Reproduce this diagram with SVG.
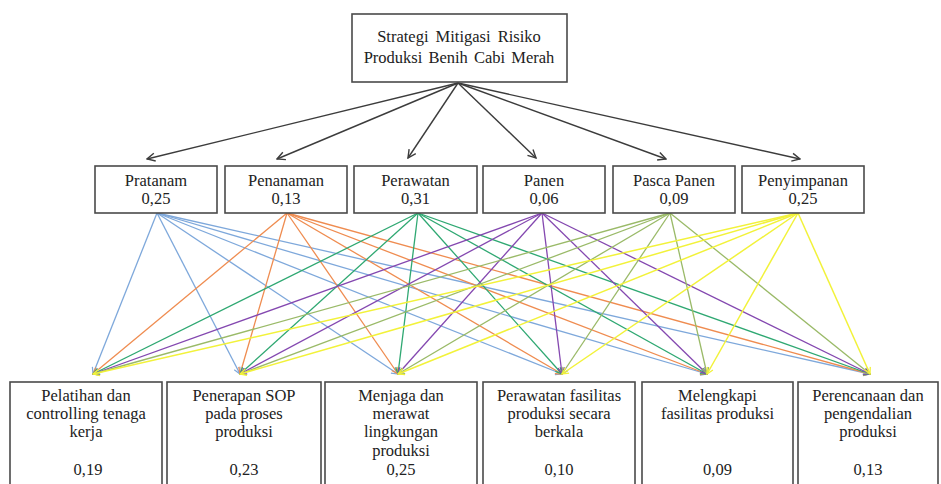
<svg xmlns="http://www.w3.org/2000/svg" width="941" height="484" viewBox="0 0 941 484">
<style>
.box{fill:#fff;stroke:#4a4a4a;stroke-width:1.6}
.t{font-family:'Times New Roman','Liberation Serif','DejaVu Serif',serif;font-size:16.5px;fill:#222;text-anchor:middle}
.top{stroke:#3c3c3c;stroke-width:1.4;fill:none;marker-end:url(#mk)}
.c1{stroke:#7ea8db;stroke-width:1.3;marker-end:url(#m1)}
.c2{stroke:#ef8c50;stroke-width:1.3;marker-end:url(#m2)}
.c3{stroke:#2fa872;stroke-width:1.3;marker-end:url(#m3)}
.c4{stroke:#8448b0;stroke-width:1.3;marker-end:url(#m4)}
.c5{stroke:#9aba68;stroke-width:1.3;marker-end:url(#m5)}
.c6{stroke:#f2f23a;stroke-width:1.5;marker-end:url(#m6)}
</style>
<defs>
<marker id="mk" viewBox="0 0 10 10" refX="9" refY="5" markerWidth="10" markerHeight="10" markerUnits="userSpaceOnUse" orient="auto"><path d="M1,1 L9,5 L1,9" fill="none" stroke="#3c3c3c" stroke-width="1.4"/></marker>
<marker id="m1" viewBox="0 0 10 10" refX="9" refY="5" markerWidth="8" markerHeight="8" markerUnits="userSpaceOnUse" orient="auto"><path d="M1,1 L9,5 L1,9" fill="none" stroke="#7ea8db" stroke-width="1.5"/></marker>
<marker id="m2" viewBox="0 0 10 10" refX="9" refY="5" markerWidth="8" markerHeight="8" markerUnits="userSpaceOnUse" orient="auto"><path d="M1,1 L9,5 L1,9" fill="none" stroke="#ef8c50" stroke-width="1.5"/></marker>
<marker id="m3" viewBox="0 0 10 10" refX="9" refY="5" markerWidth="8" markerHeight="8" markerUnits="userSpaceOnUse" orient="auto"><path d="M1,1 L9,5 L1,9" fill="none" stroke="#2fa872" stroke-width="1.5"/></marker>
<marker id="m4" viewBox="0 0 10 10" refX="9" refY="5" markerWidth="8" markerHeight="8" markerUnits="userSpaceOnUse" orient="auto"><path d="M1,1 L9,5 L1,9" fill="none" stroke="#8448b0" stroke-width="1.5"/></marker>
<marker id="m5" viewBox="0 0 10 10" refX="9" refY="5" markerWidth="8" markerHeight="8" markerUnits="userSpaceOnUse" orient="auto"><path d="M1,1 L9,5 L1,9" fill="none" stroke="#9aba68" stroke-width="1.5"/></marker>
<marker id="m6" viewBox="0 0 10 10" refX="9" refY="5" markerWidth="8" markerHeight="8" markerUnits="userSpaceOnUse" orient="auto"><path d="M1,1 L9,5 L1,9" fill="none" stroke="#f2f23a" stroke-width="1.6"/></marker>
</defs>
<g id="connectors">
<line class="top" x1="458" y1="83" x2="147" y2="159"/>
<line class="top" x1="458" y1="83" x2="277" y2="159"/>
<line class="top" x1="458" y1="83" x2="408" y2="158"/>
<line class="top" x1="458" y1="83" x2="536" y2="158"/>
<line class="top" x1="458" y1="83" x2="666" y2="159"/>
<line class="top" x1="458" y1="83" x2="800" y2="159"/>
<line class="c1" x1="157" y1="213" x2="93" y2="374"/>
<line class="c1" x1="157" y1="213" x2="240" y2="374"/>
<line class="c1" x1="157" y1="213" x2="398" y2="374"/>
<line class="c1" x1="157" y1="213" x2="562" y2="374"/>
<line class="c1" x1="157" y1="213" x2="707" y2="374"/>
<line class="c1" x1="157" y1="213" x2="870" y2="374"/>
<line class="c2" x1="287" y1="213" x2="93" y2="374"/>
<line class="c2" x1="287" y1="213" x2="240" y2="374"/>
<line class="c2" x1="287" y1="213" x2="398" y2="374"/>
<line class="c2" x1="287" y1="213" x2="562" y2="374"/>
<line class="c2" x1="287" y1="213" x2="707" y2="374"/>
<line class="c2" x1="287" y1="213" x2="870" y2="374"/>
<line class="c3" x1="418" y1="213" x2="93" y2="374"/>
<line class="c3" x1="418" y1="213" x2="240" y2="374"/>
<line class="c3" x1="418" y1="213" x2="398" y2="374"/>
<line class="c3" x1="418" y1="213" x2="562" y2="374"/>
<line class="c3" x1="418" y1="213" x2="707" y2="374"/>
<line class="c3" x1="418" y1="213" x2="870" y2="374"/>
<line class="c4" x1="542" y1="213" x2="93" y2="374"/>
<line class="c4" x1="542" y1="213" x2="240" y2="374"/>
<line class="c4" x1="542" y1="213" x2="398" y2="374"/>
<line class="c4" x1="542" y1="213" x2="562" y2="374"/>
<line class="c4" x1="542" y1="213" x2="707" y2="374"/>
<line class="c4" x1="542" y1="213" x2="870" y2="374"/>
<line class="c5" x1="670" y1="213" x2="93" y2="374"/>
<line class="c5" x1="670" y1="213" x2="240" y2="374"/>
<line class="c5" x1="670" y1="213" x2="398" y2="374"/>
<line class="c5" x1="670" y1="213" x2="562" y2="374"/>
<line class="c5" x1="670" y1="213" x2="707" y2="374"/>
<line class="c5" x1="670" y1="213" x2="870" y2="374"/>
<line class="c6" x1="798" y1="213" x2="93" y2="374"/>
<line class="c6" x1="798" y1="213" x2="240" y2="374"/>
<line class="c6" x1="798" y1="213" x2="398" y2="374"/>
<line class="c6" x1="798" y1="213" x2="562" y2="374"/>
<line class="c6" x1="798" y1="213" x2="707" y2="374"/>
<line class="c6" x1="798" y1="213" x2="870" y2="374"/>
</g>
<g id="root"><rect class="box" x="352" y="14" width="215" height="68"/><text class="t" x="459" y="42" word-spacing="3">Strategi Mitigasi Risiko</text><text class="t" x="459" y="63" word-spacing="2">Produksi Benih Cabi Merah</text></g>
<g id="pratanam"><rect class="box" x="95" y="166" width="122" height="47"/><text class="t" x="156" y="186">Pratanam</text><text class="t" x="156" y="204">0,25</text></g>
<g id="penanaman"><rect class="box" x="225" y="166" width="122" height="47"/><text class="t" x="286" y="186">Penanaman</text><text class="t" x="286" y="204">0,13</text></g>
<g id="perawatan"><rect class="box" x="354" y="166" width="123" height="47"/><text class="t" x="415.5" y="186">Perawatan</text><text class="t" x="415.5" y="204">0,31</text></g>
<g id="panen"><rect class="box" x="483" y="166" width="122" height="47"/><text class="t" x="544" y="186">Panen</text><text class="t" x="544" y="204">0,06</text></g>
<g id="pasca-panen"><rect class="box" x="613" y="166" width="122" height="47"/><text class="t" x="674" y="186">Pasca Panen</text><text class="t" x="674" y="204">0,09</text></g>
<g id="penyimpanan"><rect class="box" x="742" y="166" width="122" height="47"/><text class="t" x="803" y="186">Penyimpanan</text><text class="t" x="803" y="204">0,25</text></g>
<g id="pelatihan"><rect class="box" x="10" y="382" width="152" height="110"/><text class="t" x="86" y="401">Pelatihan dan</text><text class="t" x="86" y="419">controlling tenaga</text><text class="t" x="86" y="437">kerja</text><text class="t" x="88" y="475">0,19</text></g>
<g id="penerapan-sop"><rect class="box" x="167" y="382" width="154" height="110"/><text class="t" x="244" y="401">Penerapan SOP</text><text class="t" x="244" y="419">pada proses</text><text class="t" x="244" y="437">produksi</text><text class="t" x="244" y="475">0,23</text></g>
<g id="menjaga"><rect class="box" x="325" y="382" width="152" height="110"/><text class="t" x="401" y="401">Menjaga dan</text><text class="t" x="401" y="419">merawat</text><text class="t" x="401" y="437">lingkungan</text><text class="t" x="401" y="456">produksi</text><text class="t" x="401" y="475">0,25</text></g>
<g id="perawatan-fasilitas"><rect class="box" x="483" y="382" width="152" height="110"/><text class="t" x="559" y="401">Perawatan fasilitas</text><text class="t" x="559" y="419">produksi secara</text><text class="t" x="559" y="437">berkala</text><text class="t" x="559" y="475">0,10</text></g>
<g id="melengkapi"><rect class="box" x="642" y="382" width="151" height="110"/><text class="t" x="717.5" y="401">Melengkapi</text><text class="t" x="717.5" y="419">fasilitas produksi</text><text class="t" x="717.5" y="475">0,09</text></g>
<g id="perencanaan"><rect class="box" x="798" y="382" width="140" height="110"/><text class="t" x="868" y="401">Perencanaan dan</text><text class="t" x="868" y="419">pengendalian</text><text class="t" x="868" y="437">produksi</text><text class="t" x="868" y="475">0,13</text></g>
</svg>
